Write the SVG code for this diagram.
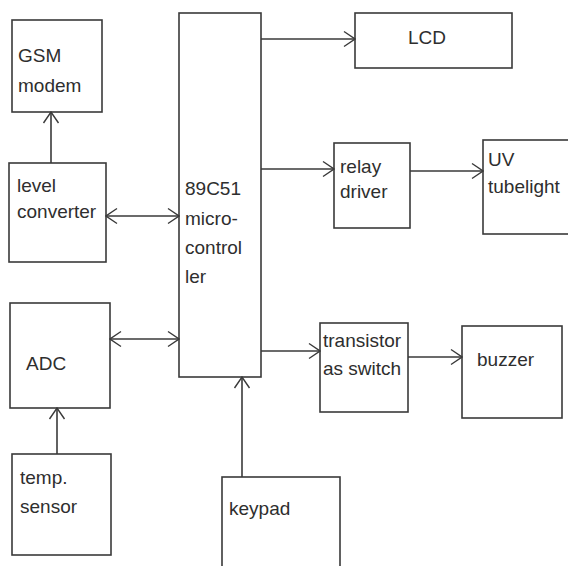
<svg xmlns="http://www.w3.org/2000/svg" width="568" height="566" viewBox="0 0 568 566">
<style>
.box{fill:#fff;stroke:#3a3a3a;stroke-width:1.6}
.t{font-family:"Liberation Sans",Arial,sans-serif;font-size:19px;fill:#2e2e2e}
.c{fill:none;stroke:#3a3a3a;stroke-width:1.6}
</style>
<defs>
<marker id="ah" viewBox="0 0 13 18" refX="12" refY="9" markerWidth="13" markerHeight="18" markerUnits="userSpaceOnUse" orient="auto-start-reverse">
<path d="M1,1.5 L12,9 L1,16.5" fill="none" stroke="#3a3a3a" stroke-width="1.4"/>
</marker>
</defs>
<rect width="568" height="566" fill="#fff"/>
<g id="gsm"><rect class="box" x="12" y="20" width="90" height="92"/><text class="t" x="18" y="62">GSM</text><text class="t" x="18" y="92">modem</text></g>
<g id="level"><rect class="box" x="9" y="163" width="97" height="99"/><text class="t" x="17" y="192">level</text><text class="t" x="17" y="218">converter</text></g>
<g id="micro"><rect class="box" x="179" y="13" width="82" height="364"/><text class="t" x="185" y="195">89C51</text><text class="t" x="185" y="225">micro-</text><text class="t" x="185" y="254">control</text><text class="t" x="185" y="283">ler</text></g>
<g id="lcd"><rect class="box" x="355" y="13" width="157" height="55"/><text class="t" x="408" y="44">LCD</text></g>
<g id="relay"><rect class="box" x="334" y="143" width="76" height="85"/><text class="t" x="340" y="173">relay</text><text class="t" x="340" y="198">driver</text></g>
<g id="uv"><rect class="box" x="483" y="140" width="100" height="94"/><text class="t" x="488" y="166">UV</text><text class="t" x="488" y="193">tubelight</text></g>
<g id="adc"><rect class="box" x="10" y="303" width="100" height="105"/><text class="t" x="26" y="370">ADC</text></g>
<g id="temp"><rect class="box" x="12" y="454" width="99" height="101"/><text class="t" x="20" y="484">temp.</text><text class="t" x="20" y="513">sensor</text></g>
<g id="keypad"><rect class="box" x="222" y="477" width="118" height="100"/><text class="t" x="229" y="515">keypad</text></g>
<g id="transistor"><rect class="box" x="320" y="323" width="88" height="89"/><text class="t" x="323" y="347">transistor</text><text class="t" x="323" y="375">as switch</text></g>
<g id="buzzer"><rect class="box" x="462" y="326" width="100" height="92"/><text class="t" x="477" y="366">buzzer</text></g>
<g id="connectors">
<line class="c" x1="51" y1="163" x2="51" y2="112" marker-end="url(#ah)"/>
<line class="c" x1="106" y1="216" x2="179" y2="216" marker-start="url(#ah)" marker-end="url(#ah)"/>
<line class="c" x1="110" y1="339" x2="179" y2="339" marker-start="url(#ah)" marker-end="url(#ah)"/>
<line class="c" x1="57" y1="454" x2="57" y2="408" marker-end="url(#ah)"/>
<line class="c" x1="242" y1="477" x2="242" y2="377" marker-end="url(#ah)"/>
<line class="c" x1="261" y1="39" x2="355" y2="39" marker-end="url(#ah)"/>
<line class="c" x1="261" y1="169" x2="334" y2="169" marker-end="url(#ah)"/>
<line class="c" x1="410" y1="171" x2="483" y2="171" marker-end="url(#ah)"/>
<line class="c" x1="261" y1="351" x2="320" y2="351" marker-end="url(#ah)"/>
<line class="c" x1="408" y1="357" x2="462" y2="357" marker-end="url(#ah)"/>
</g>
</svg>
